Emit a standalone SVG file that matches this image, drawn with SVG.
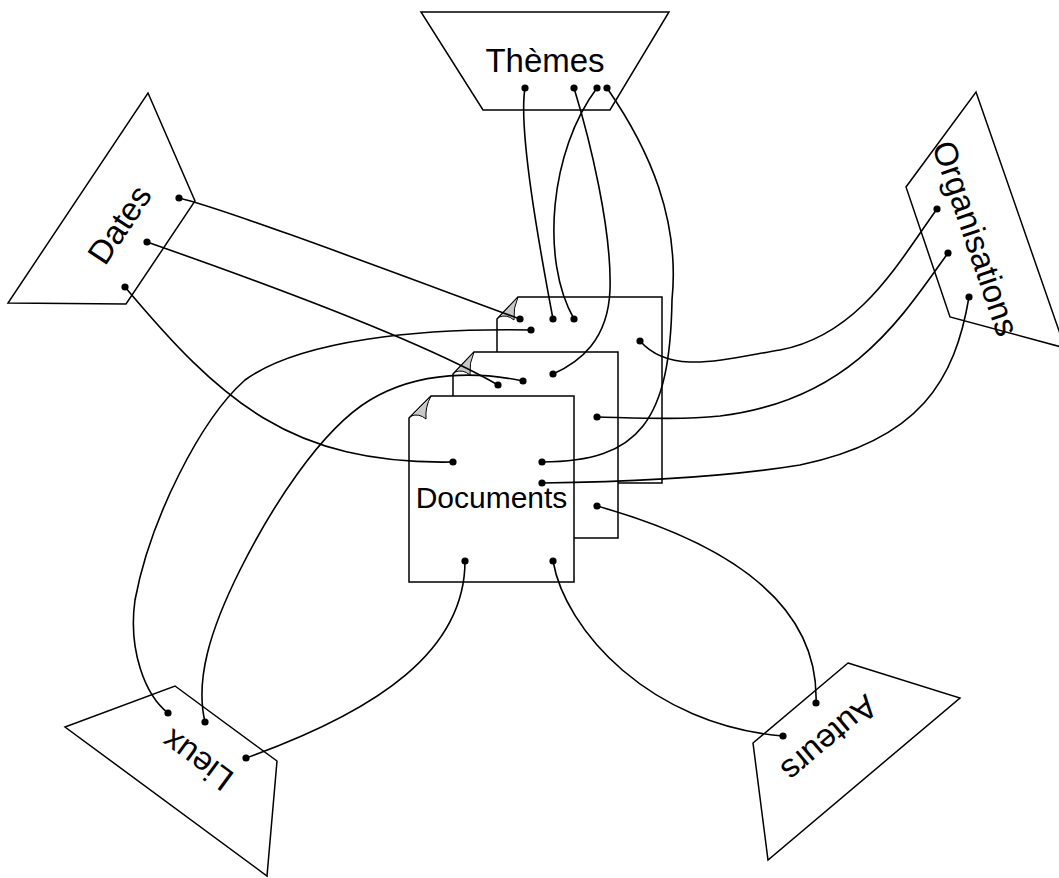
<svg xmlns="http://www.w3.org/2000/svg" width="1059" height="878" viewBox="0 0 1059 878">
<style>
.shape{fill:#fff;stroke:#000;stroke-width:1.5;stroke-linejoin:miter}
.flap{fill:#c8c8c8;stroke:#000;stroke-width:1}
.lbl{font-family:"Liberation Sans",Arial,sans-serif;font-size:33px;fill:#000;text-anchor:middle}
.doc{font-size:30px}
.edge{fill:none;stroke:#000;stroke-width:1.6;marker-start:url(#dot);marker-end:url(#dot)}
</style>
<defs>
<marker id="dot" viewBox="0 0 8 8" refX="4" refY="4" markerWidth="8" markerHeight="8" markerUnits="userSpaceOnUse">
<circle cx="4" cy="4" r="3.6" fill="#000"/>
</marker>
</defs>
<rect width="1059" height="878" fill="#fff"/>

<g id="themes">
<polygon class="shape" points="421,12 669,12 610,110 483,110"/>
<text class="lbl" x="545" y="72">Thèmes</text>
</g>
<g id="dates">
<polygon class="shape" points="148,93 195,201 126,304 8,303"/>
<text class="lbl" transform="translate(129,231) rotate(-56.3)">Dates</text>
</g>
<g id="organisations">
<polygon class="shape" points="976,92 1065,348 950,317 906,187"/>
<text class="lbl" transform="translate(965,242) rotate(71)">Organisations</text>
</g>
<g id="lieux">
<polygon class="shape" points="175,686 277,761 267,876 65,727"/>
<text class="lbl" transform="translate(204,751) rotate(216.3)">Lieux</text>
</g>
<g id="auteurs">
<polygon class="shape" points="848,663 960,698 768,860 753,743"/>
<text class="lbl" transform="translate(822,730) rotate(139.8)">Auteurs</text>
</g>
<g id="documents">
<path class="shape" d="M518,297 H662 V483 H497 V319 Z"/>
<path class="flap" d="M518,297 L499,317 Q507,314 514,320 Q513,308 518,297 Z"/>
<path class="shape" d="M474,352 H618 V538 H453 V374 Z"/>
<path class="flap" d="M474,352 L455,372 Q463,369 470,375 Q469,363 474,352 Z"/>
<path class="shape" d="M431,396 H574 V582 H409 V418 Z"/>
<path class="flap" d="M431,396 L411,416 Q419,413 426,419 Q425,407 431,396 Z"/>
<text class="lbl doc" x="491.5" y="508">Documents</text>
</g>

<g id="connectors">
<path class="edge" d="M179,198 C230,210 440,290 520,319"/>
<path class="edge" d="M147,242 C250,278 420,340 498,385"/>
<path class="edge" d="M125,287 C220,400 290,465 453,462"/>
<path class="edge" d="M525,88 C518,130 540,250 553,319"/>
<path class="edge" d="M574,88 C590,140 612,230 610,290 C608,340 580,362 553,374"/>
<path class="edge" d="M597,88 C550,150 540,260 574,319"/>
<path class="edge" d="M607,88 C650,150 680,220 672,300 C670,420 640,462 542,462"/>
<path class="edge" d="M937,209 C900,260 860,335 780,350 C720,360 670,375 640,341"/>
<path class="edge" d="M948,253 C900,320 850,400 720,416 C680,420 640,418 597,417"/>
<path class="edge" d="M969,297 C955,380 920,440 800,465 C720,478 620,482 542,483"/>
<path class="edge" d="M597,506 C700,535 820,590 816,703"/>
<path class="edge" d="M553,561 C565,630 650,725 783,736"/>
<path class="edge" d="M465,561 C465,650 380,710 246,758"/>
<path class="edge" d="M531,330 C420,328 300,340 245,380 C200,420 150,520 135,600 C128,650 145,695 168,713"/>
<path class="edge" d="M523,381 C480,372 420,370 370,400 C320,430 270,510 240,570 C210,630 195,680 205,722"/>
</g>
</svg>
